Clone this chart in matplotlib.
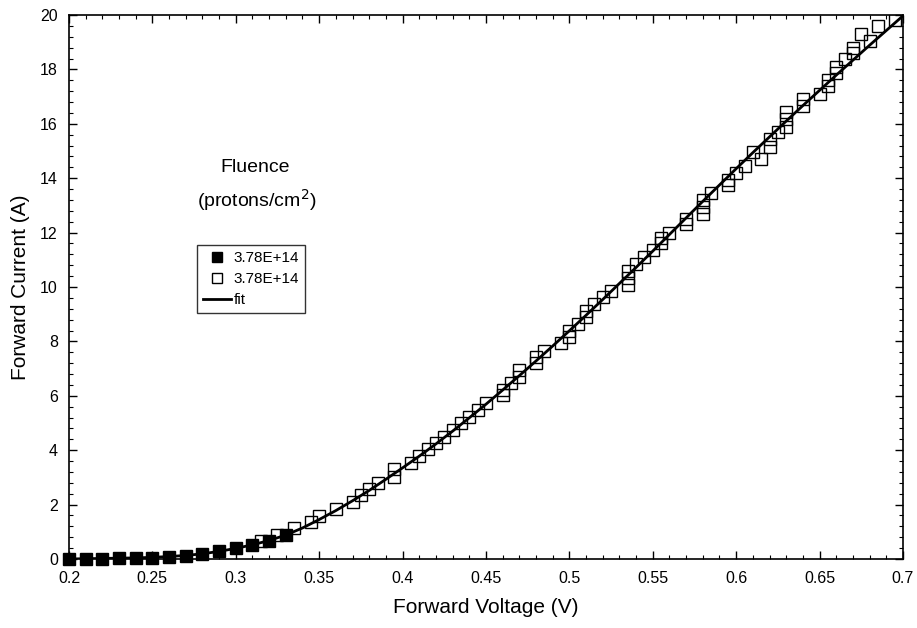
import matplotlib
matplotlib.use("Agg")
import matplotlib.pyplot as plt
from matplotlib.ticker import MultipleLocator
from matplotlib.lines import Line2D

plt.rcParams['font.family'] = ['Liberation Sans', 'DejaVu Sans']

# Filled squares (low voltage)
filled_v = [0.20, 0.21, 0.22, 0.23, 0.24, 0.25, 0.26, 0.27, 0.28, 0.29, 0.30, 0.31, 0.32, 0.33]
filled_i = [0.00, 0.00, 0.01, 0.02, 0.03, 0.05, 0.08, 0.12, 0.18, 0.29, 0.40, 0.51, 0.66, 0.88]

# Open squares
open_v = [0.315, 0.325, 0.335, 0.345, 0.350, 0.360, 0.370, 0.375, 0.380, 0.385,
          0.395, 0.395, 0.405, 0.410, 0.415, 0.420, 0.425, 0.430, 0.435, 0.440,
          0.445, 0.450, 0.460, 0.460, 0.465, 0.470, 0.470, 0.480, 0.480, 0.485,
          0.495, 0.500, 0.500, 0.505, 0.510, 0.510, 0.515, 0.520, 0.525, 0.535,
          0.535, 0.535, 0.540, 0.545, 0.550, 0.555, 0.555, 0.560, 0.570, 0.570,
          0.580, 0.580, 0.580, 0.585, 0.595, 0.595, 0.600, 0.605, 0.610, 0.615,
          0.620, 0.620, 0.625, 0.630, 0.630, 0.630, 0.640, 0.640, 0.650, 0.655,
          0.655, 0.660, 0.660, 0.665, 0.670, 0.670, 0.675, 0.680, 0.685, 0.695]
open_i = [0.66, 0.88, 1.14, 1.36, 1.58, 1.84, 2.10, 2.35, 2.57, 2.79,
          3.02, 3.31, 3.53, 3.79, 4.04, 4.26, 4.49, 4.74, 5.00, 5.22,
          5.48, 5.74, 6.03, 6.21, 6.47, 6.69, 6.95, 7.20, 7.43, 7.65,
          7.94, 8.16, 8.38, 8.64, 8.90, 9.12, 9.37, 9.63, 9.85, 10.07,
          10.33, 10.60, 10.85, 11.10, 11.35, 11.60, 11.80, 12.00, 12.30, 12.50,
          12.70, 12.95, 13.20, 13.45, 13.75, 13.95, 14.20, 14.45, 14.96, 14.70,
          15.15, 15.44, 15.70, 15.90, 16.18, 16.43, 16.65, 16.90, 17.10, 17.40,
          17.60, 17.85, 18.10, 18.40, 18.60, 18.80, 19.30, 19.05, 19.60, 19.80]

# Fit curve
fit_v = [0.20, 0.21, 0.22, 0.23, 0.24, 0.25, 0.26, 0.27, 0.28, 0.29,
         0.30, 0.31, 0.32, 0.33, 0.34, 0.35, 0.36, 0.37, 0.38, 0.39,
         0.40, 0.41, 0.42, 0.43, 0.44, 0.45, 0.46, 0.47, 0.48, 0.49,
         0.50, 0.51, 0.52, 0.53, 0.54, 0.55, 0.56, 0.57, 0.58, 0.59,
         0.60, 0.61, 0.62, 0.63, 0.64, 0.65, 0.66, 0.67, 0.68, 0.69, 0.70]
fit_i = [0.00, 0.01, 0.02, 0.03, 0.04, 0.06, 0.09, 0.13, 0.19, 0.28,
         0.39, 0.52, 0.68, 0.88, 1.14, 1.45, 1.78, 2.14, 2.52, 2.93,
         3.35, 3.78, 4.23, 4.70, 5.19, 5.69, 6.21, 6.74, 7.28, 7.83,
         8.39, 8.96, 9.54, 10.13, 10.72, 11.32, 11.93, 12.54, 13.15, 13.75,
         14.35, 14.94, 15.52, 16.10, 16.67, 17.23, 17.79, 18.34, 18.89, 19.43, 19.97]

legend_labels = ['3.78E+14', '3.78E+14', 'fit']

fig = plt.figure(figsize=(9.17, 6.28), dpi=100)
ax = fig.add_axes([0.0752, 0.1099, 0.9095, 0.8662])

ax.plot(fit_v, fit_i, color='black', lw=2.0, zorder=3)
ax.plot(open_v, open_i, ls='none', marker='s', ms=8.5, mfc='none', mec='black', mew=1.0, zorder=2)
ax.plot(filled_v, filled_i, ls='none', marker='s', ms=8.5, mfc='black', mec='black', zorder=4, clip_on=False)

ax.set_xlim(0.2, 0.7)
ax.set_ylim(0, 20)
ax.xaxis.set_major_locator(MultipleLocator(0.05))
ax.xaxis.set_minor_locator(MultipleLocator(0.01))
ax.yaxis.set_major_locator(MultipleLocator(2))
ax.yaxis.set_minor_locator(MultipleLocator(0.4))
ax.xaxis.set_major_formatter(plt.FuncFormatter(lambda v, p: ('%.2f' % v).rstrip('0').rstrip('.')))
ax.tick_params(which='both', direction='in', top=True, right=True, labelsize=11.5)
ax.tick_params(which='major', length=6, width=1.0)
ax.tick_params(which='minor', length=3, width=0.8)
ax.tick_params(axis='x', pad=9)
ax.tick_params(axis='y', pad=8)
for s in ax.spines.values():
    s.set_linewidth(1.2)

ax.set_xlabel('Forward Voltage (V)', fontsize=15, labelpad=8)
ax.set_ylabel('Forward Current (A)', fontsize=15, labelpad=7)

fig.text(255 / 917, 1 - 167 / 628, 'Fluence', ha='center', va='center', fontsize=14)
fig.text(257 / 917, 1 - 200 / 628, '(protons/cm$^{2}$)', ha='center', va='center', fontsize=14)

handles = [
    Line2D([], [], ls='none', marker='s', ms=7, mfc='black', mec='black'),
    Line2D([], [], ls='none', marker='s', ms=7, mfc='none', mec='black', mew=1.0),
    Line2D([], [], color='black', lw=2.0),
]
leg = ax.legend(handles, legend_labels, loc='upper left',
                bbox_to_anchor=(197 / 917, 1 - 245 / 628), bbox_transform=fig.transFigure,
                fontsize=11, frameon=True, fancybox=False, shadow=False,
                handlelength=1.8, handletextpad=0.2, labelspacing=0.45,
                borderpad=0.4, borderaxespad=0)
leg.get_frame().set_edgecolor('black')
leg.get_frame().set_linewidth(1.0)

fig.savefig('out.png', dpi=100)
